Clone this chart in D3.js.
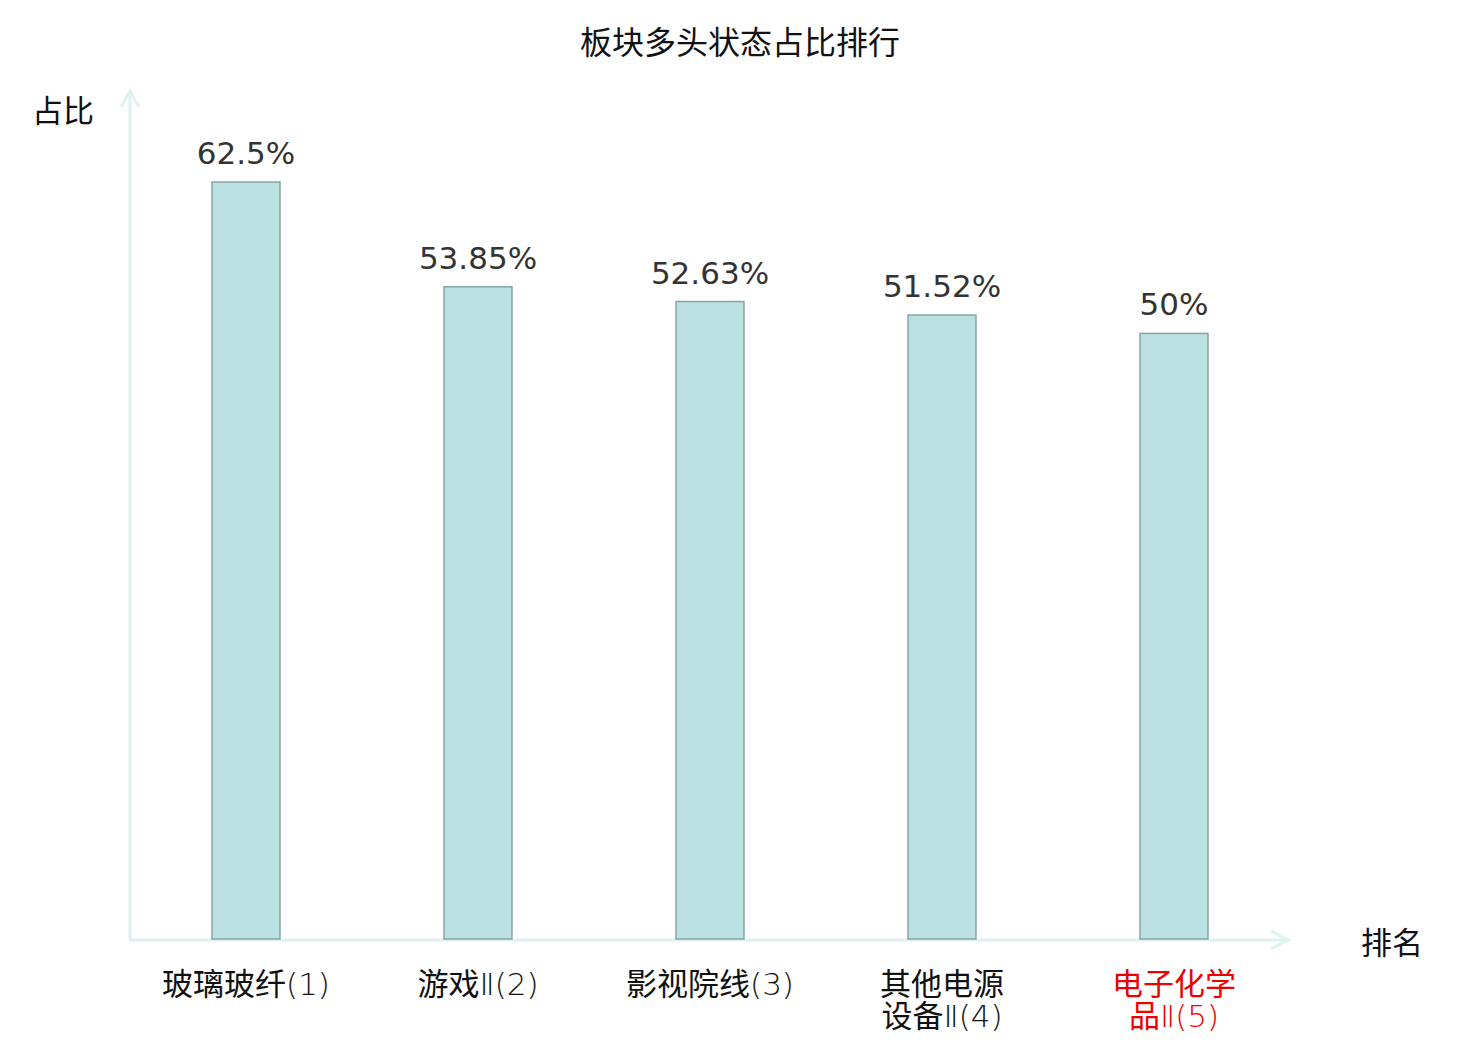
<!DOCTYPE html>
<html>
<head>
<meta charset="utf-8">
<script src="https://cdn.jsdelivr.net/npm/d3@7"></script>
<style>
  body { margin: 0; background: #fff; }
  text { font-family: "Noto Sans CJK SC", sans-serif; }
  text.val { font-family: "DejaVu Sans", sans-serif; }
  text.cat { font-family: "DejaVu Sans", "Noto Sans CJK SC", sans-serif; }
  tspan.thin { font-weight: 200; }
</style>
</head>
<body>
<svg id="chart" width="1480" height="1040"></svg>
<script>
// chart data
var categories = ['玻璃玻纤', '游戏Ⅱ', '影视院线', '其他电源设备Ⅱ', '电子化学品Ⅱ'];
var ranks = [1, 2, 3, 4, 5];
var values = [62.5, 53.85, 52.63, 51.52, 50];
var highlight = '电子化学品Ⅱ'; // the one drawn in red

var svg = d3.select('#chart');

var x0 = 130, y0 = 939;

var x = d3.scaleBand()
  .domain(categories)
  .range([x0, 1290])
  .paddingInner(0.707)
  .paddingOuter(0.3535);

var y = d3.scaleLinear()
  .domain([0, d3.max(values)])
  .range([y0, 182]);

// title
svg.append('text')
  .attr('x', 740).attr('y', 54)
  .attr('text-anchor', 'middle')
  .style('font-size', '32px')
  .style('fill', '#111')
  .text('板块多头状态占比排行');

// axes, drawn as arrows
var axisColor = '#def2ef';
svg.append('line')
  .attr('x1', x0).attr('y1', y0 + 1).attr('x2', x0).attr('y2', 91)
  .style('stroke', axisColor).style('stroke-width', 3);
svg.append('polyline')
  .attr('points', [[x0 - 9, 107], [x0, 91], [x0 + 9, 107]].join(' '))
  .style('fill', 'none').style('stroke', axisColor).style('stroke-width', 3);

svg.append('line')
  .attr('x1', x0 - 1).attr('y1', y0 + 1).attr('x2', 1288).attr('y2', y0 + 1)
  .style('stroke', axisColor).style('stroke-width', 3);
svg.append('polyline')
  .attr('points', [[1271, y0 - 8], [1288, y0 + 1], [1271, y0 + 10]].join(' '))
  .style('fill', 'none').style('stroke', axisColor).style('stroke-width', 3);

svg.append('text')
  .attr('x', 63).attr('y', 122)
  .attr('text-anchor', 'middle')
  .style('font-size', '31px').style('fill', '#111')
  .text('占比');

svg.append('text')
  .attr('x', 1392).attr('y', 954)
  .attr('text-anchor', 'middle')
  .style('font-size', '31px').style('fill', '#111')
  .text('排名');

// bars
var rows = categories.map(function (c, i) {
  return { name: c, rank: ranks[i], value: values[i] };
});

svg.selectAll('rect.bar')
  .data(rows)
  .enter().append('rect')
  .attr('class', 'bar')
  .attr('x', function (d) { return x(d.name); })
  .attr('y', function (d) { return y(d.value); })
  .attr('width', x.bandwidth())
  .attr('height', function (d) { return y0 - y(d.value); })
  .style('fill', '#bbe0e2')
  .style('stroke', '#86a4a6')
  .style('stroke-width', 1.5);

// value labels
svg.selectAll('text.val')
  .data(rows)
  .enter().append('text')
  .attr('class', 'val')
  .attr('x', function (d) { return x(d.name) + x.bandwidth() / 2; })
  .attr('y', function (d) { return y(d.value) - 18; })
  .attr('text-anchor', 'middle')
  .style('font-size', '31px')
  .style('fill', '#333')
  .text(function (d) { return d3.format('~g')(d.value) + '%'; });

// category labels, long names wrap after 4 chars
// the CJK part stays regular, the latin part (Ⅱ, rank) is drawn thin
var cjk = /[\u4e00-\u9fff]/;
function runs(s) {
  var out = [];
  Array.from(s).forEach(function (ch) {
    var k = cjk.test(ch);
    if (out.length && out[out.length - 1].cjk === k) out[out.length - 1].t += ch;
    else out.push({ cjk: k, t: ch });
  });
  return out;
}

var labels = svg.selectAll('text.cat')
  .data(rows)
  .enter().append('text')
  .attr('class', 'cat')
  .attr('text-anchor', 'middle')
  .style('font-size', '31px')
  .style('fill', function (d) { return d.name === highlight ? '#ee0000' : '#111'; });

labels.each(function (d) {
  var suffix = '(' + d.rank + ')';
  var lines = d.name.length > 4 ? [d.name.slice(0, 4), d.name.slice(4) + suffix] : [d.name + suffix];
  var cx = x(d.name) + x.bandwidth() / 2;
  var t = d3.select(this);
  lines.forEach(function (l, i) {
    runs(l).forEach(function (r, j) {
      var ts = t.append('tspan')
        .attr('class', r.cjk ? null : 'thin')
        .text(r.t);
      if (j === 0) ts.attr('x', cx).attr('y', 995 + i * 32);
    });
  });
});
</script>
</body>
</html>
